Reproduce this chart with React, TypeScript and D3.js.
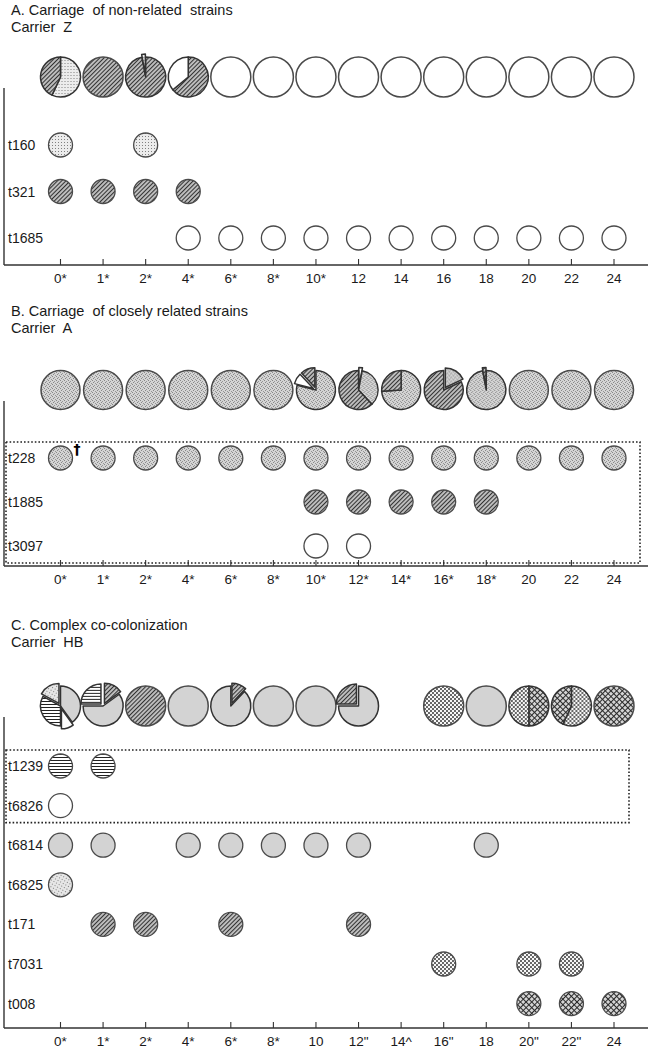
import React from 'react';
import * as d3 from 'd3';

// ---------- DATA ----------
const timePoints = ['0', '1', '2', '4', '6', '8', '10', '12', '14', '16', '18', '20', '22', '24'];

const tickLabelsA = ['0*', '1*', '2*', '4*', '6*', '8*', '10*', '12', '14', '16', '18', '20', '22', '24'];
const tickLabelsB = ['0*', '1*', '2*', '4*', '6*', '8*', '10*', '12*', '14*', '16*', '18*', '20', '22', '24'];
const tickLabelsC = ['0*', '1*', '2*', '4*', '6*', '8*', '10', '12"', '14^', '16"', '18', '20"', '22"', '24'];

// Panel A strains and the visits they were found at
const strainsA = ['t160', 't321', 't1685'];
const t160Times = ['0', '2'];
const t321Times = ['0', '1', '2', '4'];
const t1685Times = ['4', '6', '8', '10', '12', '14', '16', '18', '20', '22', '24'];

// Panel B
const strainsB = ['t228', 't1885', 't3097'];
const t228Times = ['0', '1', '2', '4', '6', '8', '10', '12', '14', '16', '18', '20', '22', '24'];
const t1885Times = ['10', '12', '14', '16', '18'];
const t3097Times = ['10', '12'];

// Panel C
const strainsC = ['t1239', 't6826', 't6814', 't6825', 't171', 't7031', 't008'];
const t1239Times = ['0', '1'];
const t6826Times = ['0'];
const t6814Times = ['0', '1', '4', '6', '8', '10', '12', '18'];
const t6825Times = ['0'];
const t171Times = ['1', '2', '6', '12'];
const t7031Times = ['16', '20', '22'];
const t008Times = ['20', '22', '24'];

// Composition of each visit (percent per strain), one entry per time point
type Slice = [string, number];
const piesA: Slice[][] = [
  [['t160', 57], ['t321', 43]],
  [['t321', 100]],
  [['t321', 97], ['t160', 3]],
  [['t321', 64], ['t1685', 36]],
  [['t1685', 100]],
  [['t1685', 100]],
  [['t1685', 100]],
  [['t1685', 100]],
  [['t1685', 100]],
  [['t1685', 100]],
  [['t1685', 100]],
  [['t1685', 100]],
  [['t1685', 100]],
  [['t1685', 100]],
];
const piesB: Slice[][] = [
  [['t228', 100]],
  [['t228', 100]],
  [['t228', 100]],
  [['t228', 100]],
  [['t228', 100]],
  [['t228', 100]],
  [['t228', 79], ['t3097', 9], ['t1885', 12]],
  [['t3097', 3], ['t228', 35], ['t1885', 62]],
  [['t228', 74], ['t1885', 26]],
  [['t228', 18], ['t1885', 82]],
  [['t228', 97], ['t1885', 3]],
  [['t228', 100]],
  [['t228', 100]],
  [['t228', 100]],
];
const piesC: Slice[][] = [
  [['t6814', 40], ['t6826', 10], ['t1239', 33], ['t6825', 17]],
  [['t171', 15], ['t6814', 60], ['t1239', 25]],
  [['t171', 100]],
  [['t6814', 100]],
  [['t171', 12], ['t6814', 88]],
  [['t6814', 100]],
  [['t6814', 100]],
  [['t6814', 75], ['t171', 25]],
  [],
  [['t7031', 100]],
  [['t6814', 100]],
  [['t008', 50], ['t7031', 50]],
  [['t7031', 57], ['t008', 43]],
  [['t008', 100]],
];

// ---------- STYLE ----------
const fillFor: Record<string, string> = {
  t160: 'url(#p-stipple)',
  t6825: 'url(#p-stipple2)',
  t321: 'url(#p-hatch)',
  t1885: 'url(#p-hatch)',
  t171: 'url(#p-hatch)',
  t1685: '#ffffff',
  t3097: '#ffffff',
  t6826: '#ffffff',
  t228: 'url(#p-weave)',
  t6814: '#d3d3d3',
  t1239: 'url(#p-stripes)',
  t7031: 'url(#p-dots)',
  t008: 'url(#p-cross)',
};

const FONT = '"Liberation Sans", Arial, sans-serif';
const TEXT = '#1a1a1a';
const OUTLINE = '#4a4a4a';

const x = d3.scalePoint<string>().domain(timePoints).range([60.5, 614]);

function timesFor(name: string): string[] {
  const m: Record<string, string[]> = {
    t160: t160Times, t321: t321Times, t1685: t1685Times,
    t228: t228Times, t1885: t1885Times, t3097: t3097Times,
    t1239: t1239Times, t6826: t6826Times, t6814: t6814Times, t6825: t6825Times,
    t171: t171Times, t7031: t7031Times, t008: t008Times,
  };
  return m[name];
}

const pieGen = d3.pie<Slice>().sort(null).value((d) => d[1]);

function Pie({ cx, cy, r, slices }: { cx: number; cy: number; r: number; slices: Slice[] }) {
  if (!slices.length) return null;
  if (slices.length === 1) {
    return <circle cx={cx} cy={cy} r={r} fill={fillFor[slices[0][0]]} stroke={OUTLINE} strokeWidth={1.5} />;
  }
  const arc = d3.arc<d3.PieArcDatum<Slice>>().innerRadius(0).outerRadius(r);
  const arcs = pieGen(slices);
  return (
    <g>
      {arcs.map((a, i) => {
        const mid = (a.startAngle + a.endAngle) / 2;
        const off = a.data[1] <= 25 ? 3 : 0;
        const dx = Math.sin(mid) * off;
        const dy = -Math.cos(mid) * off;
        return (
          <path
            key={i}
            d={arc(a) || ''}
            transform={`translate(${cx + dx},${cy + dy})`}
            fill={fillFor[a.data[0]]}
            stroke="#333"
            strokeWidth={1.5}
            strokeLinejoin="round"
          />
        );
      })}
    </g>
  );
}

type PanelProps = {
  title1: string;
  title2: string;
  titleY: number;
  pieY: number;
  pieR: number;
  pies: Slice[][];
  strains: string[];
  rowY0: number;
  rowStep: number;
  axisY: number;
  ticks: string[];
  boxRows: number;
  boxRight: number;
  dagger?: boolean;
};

function Panel(p: PanelProps) {
  const y = d3
    .scalePoint<string>()
    .domain(p.strains)
    .range([p.rowY0, p.rowY0 + p.rowStep * (p.strains.length - 1)]);
  const rowR = 12;
  return (
    <g>
      <text x={11} y={p.titleY} fontFamily={FONT} fontSize={14.5} fill={TEXT} style={{ whiteSpace: 'pre' }}>
        {p.title1}
      </text>
      <text x={11} y={p.titleY + 17} fontFamily={FONT} fontSize={14.5} fill={TEXT} style={{ whiteSpace: 'pre' }}>
        {p.title2}
      </text>

      {timePoints.map((t, i) => (
        <Pie key={t} cx={x(t)!} cy={p.pieY} r={p.pieR} slices={p.pies[i]} />
      ))}

      {/* axes */}
      <line x1={4} x2={4} y1={p.pieY + 11} y2={p.axisY} stroke="#333" strokeWidth={1.4} />
      <line x1={4} x2={648} y1={p.axisY} y2={p.axisY} stroke="#333" strokeWidth={1.4} />
      {timePoints.map((t, i) => (
        <g key={t}>
          <line x1={x(t)!} x2={x(t)!} y1={p.axisY - 6} y2={p.axisY} stroke="#333" strokeWidth={1.1} />
          <text x={x(t)!} y={p.axisY + 18} textAnchor="middle" fontFamily={FONT} fontSize={13.5} fill={TEXT}>
            {p.ticks[i]}
          </text>
        </g>
      ))}

      {p.boxRows > 0 && (
        <rect
          x={6}
          y={y(p.strains[0])! - 16}
          width={p.boxRight - 6}
          height={y(p.strains[p.boxRows - 1])! - y(p.strains[0])! + 33}
          fill="none"
          stroke="#222"
          strokeWidth={1.6}
          strokeDasharray="1.6,2"
        />
      )}

      {p.strains.map((s) => (
        <g key={s}>
          <text x={8} y={y(s)!} dy="0.36em" fontFamily={FONT} fontSize={14} fill={TEXT}>
            {s}
          </text>
          {timesFor(s).map((t) => (
            <circle key={t} cx={x(t)!} cy={y(s)!} r={rowR} fill={fillFor[s]} stroke={OUTLINE} strokeWidth={1.3} />
          ))}
        </g>
      ))}

      {p.dagger && (
        <text
          x={x('0')! + 13}
          y={y(p.strains[0])! - 4}
          fontFamily='"DejaVu Sans", sans-serif'
          fontWeight="bold"
          fontSize={14}
          fill="#000"
        >
          †
        </text>
      )}
    </g>
  );
}

export default function App() {
  return (
    <svg
      width={650}
      height={1051}
      viewBox="0 0 650 1051"
      style={{ position: 'absolute', left: 0, top: 0, background: '#fff' }}
    >
      <defs>
        <pattern id="p-stipple" width="3" height="3" patternUnits="userSpaceOnUse">
          <rect width="3" height="3" fill="#ececec" />
          <rect x="1" y="1" width="1" height="1" fill="#808080" />
        </pattern>
        <pattern id="p-stipple2" width="3" height="3" patternUnits="userSpaceOnUse" patternTransform="rotate(30)">
          <rect width="3" height="3" fill="#e6e6e6" />
          <rect x="1" y="1" width="1" height="1" fill="#808080" />
        </pattern>
        <pattern id="p-hatch" width="3" height="3" patternUnits="userSpaceOnUse" patternTransform="rotate(45)">
          <rect width="3" height="3" fill="#c0c0c0" />
          <line x1="0.5" y1="0" x2="0.5" y2="3" stroke="#333" strokeWidth="1.1" />
        </pattern>
        <pattern id="p-weave" width="4" height="4" patternUnits="userSpaceOnUse">
          <rect width="4" height="4" fill="#d4d4d4" />
          <rect x="0" y="0" width="1" height="1" fill="#888" />
          <rect x="2" y="1" width="1" height="1" fill="#969696" />
          <rect x="1" y="2" width="1" height="1" fill="#888" />
          <rect x="3" y="3" width="1" height="1" fill="#969696" />
        </pattern>
        <pattern id="p-stripes" width="3" height="3" patternUnits="userSpaceOnUse">
          <rect width="3" height="3" fill="#ffffff" />
          <line x1="0" y1="1.5" x2="3" y2="1.5" stroke="#222" strokeWidth="1" />
        </pattern>
        <pattern id="p-dots" width="4" height="4" patternUnits="userSpaceOnUse">
          <rect width="4" height="4" fill="#f7f7f7" />
          <circle cx="1" cy="1" r="0.95" fill="#2a2a2a" />
          <circle cx="3" cy="3" r="0.95" fill="#2a2a2a" />
        </pattern>
        <pattern id="p-cross" width="4" height="4" patternUnits="userSpaceOnUse" patternTransform="rotate(45)">
          <rect width="4" height="4" fill="#d4d4d4" />
          <line x1="0" y1="0.5" x2="4" y2="0.5" stroke="#2a2a2a" strokeWidth="1" />
          <line x1="0.5" y1="0" x2="0.5" y2="4" stroke="#2a2a2a" strokeWidth="1" />
        </pattern>
      </defs>
      <rect width={650} height={1051} fill="#fff" />

      <Panel
        title1="A. Carriage  of non-related  strains"
        title2="Carrier  Z"
        titleY={15}
        pieY={77}
        pieR={20}
        pies={piesA}
        strains={strainsA}
        rowY0={145}
        rowStep={46.5}
        axisY={265}
        ticks={tickLabelsA}
        boxRows={0}
        boxRight={0}
      />
      <Panel
        title1="B. Carriage  of closely related strains"
        title2="Carrier  A"
        titleY={316}
        pieY={390}
        pieR={19.5}
        pies={piesB}
        strains={strainsB}
        rowY0={458}
        rowStep={44}
        axisY={566}
        ticks={tickLabelsB}
        boxRows={3}
        boxRight={640}
        dagger
      />
      <Panel
        title1="C. Complex co-colonization"
        title2="Carrier  HB"
        titleY={630}
        pieY={706}
        pieR={20}
        pies={piesC}
        strains={strainsC}
        rowY0={766}
        rowStep={39.6}
        axisY={1028}
        ticks={tickLabelsC}
        boxRows={2}
        boxRight={629}
      />
    </svg>
  );
}
